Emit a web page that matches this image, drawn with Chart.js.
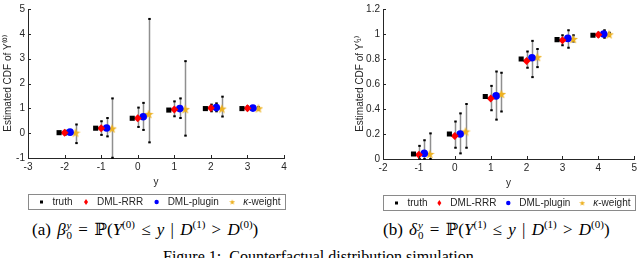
<!DOCTYPE html>
<html><head><meta charset="utf-8">
<script src="https://cdn.jsdelivr.net/npm/chart.js@4/dist/chart.umd.min.js"></script>
<style>
html,body{margin:0;padding:0;background:#fff;}
#wrap{position:relative;width:640px;height:258px;overflow:hidden;background:#fff;}
canvas{position:absolute;top:0;}
.cap{position:absolute;font-family:'Liberation Serif','DejaVu Serif',serif;font-size:17px;color:#000;white-space:nowrap;line-height:18px;word-spacing:2px;}
.cap sup{font-size:11px;vertical-align:0;position:relative;top:-7px;line-height:0;word-spacing:0;}
.ss{display:inline-block;vertical-align:-4px;font-size:11px;line-height:10px;text-align:left;margin-left:1px;}
.fig{position:absolute;font-family:'Liberation Serif','DejaVu Serif',serif;font-size:16px;color:#000;white-space:nowrap;line-height:18px;}
</style></head>
<body><div id="wrap">
<canvas id="c1" width="300" height="212" style="left:0px;width:300px;height:212px"></canvas>
<canvas id="c2" width="295" height="212" style="left:345px;width:295px;height:212px"></canvas>
<div class="cap" style="left:32px;top:220px">(a) <i>β</i><span class="ss"><i>y</i><br>0</span> = ℙ(<i>Y</i><sup>(0)</sup> ≤ <i>y</i> | <i>D</i><sup>(1)</sup> &gt; <i>D</i><sup>(0)</sup>)</div>
<div class="cap" style="left:383px;top:220px">(b) <i>δ</i><span class="ss"><i>y</i><br>0</span> = ℙ(<i>Y</i><sup>(1)</sup> ≤ <i>y</i> | <i>D</i><sup>(1)</sup> &gt; <i>D</i><sup>(0)</sup>)</div>
<div class="fig" style="left:163px;top:248px">Figure 1:&nbsp; Counterfactual distribution simulation</div>
</div>
<script>
// ---------------- DATA ----------------
const seriesNames = ['truth', 'DML-RRR', 'DML-plugin', 'κ-weight'];

// Panel (a): Y(0)
const catsA = [-2, -1, 0, 1, 2, 3];
const truthA  = [0.02, 0.20, 0.60, 0.93, 0.99, 0.99];
const rrrA    = [0.02, 0.20, 0.60, 0.95, 1.01, 1.00];
const plugA   = [0.04, 0.21, 0.66, 0.99, 1.03, 1.01];
const kapA    = [0.02, 0.19, 0.77, 0.97, 0.99, 1.00];
const rrrLoA  = [-0.06, -0.07, 0.25, 0.68, 0.88, 0.93];
const rrrHiA  = [0.10, 0.48, 1.03, 1.28, 1.15, 1.08];
const plugLoA = [-0.04, -0.13, 0.13, 0.61, 0.88, 0.95];
const plugHiA = [0.12, 0.61, 1.22, 1.40, 1.20, 1.06];
const kapLoA  = [-0.40, -0.99, -0.37, -0.10, 0.67, 0.95];
const kapHiA  = [0.35, 1.40, 4.60, 2.90, 1.47, 1.05];
const xTicksA = [-3, -2, -1, 0, 1, 2, 3, 4];
const xTickLabelsA = ['-3', '-2', '-1', '0', '1', '2', '3', '4'];
const yTicksA = [-1, 0, 1, 2, 3, 4, 5];
const yTickLabelsA = ['-1', '0', '1', '2', '3', '4', '5'];

// Panel (b): Y(1)
const catsB = [-1, 0, 1, 2, 3, 4];
const truthB  = [0.04, 0.20, 0.50, 0.80, 0.955, 0.99];
const rrrB    = [0.035, 0.185, 0.485, 0.785, 0.95, 0.995];
const plugB   = [0.045, 0.20, 0.505, 0.81, 0.965, 1.0];
const kapB    = [0.04, 0.22, 0.52, 0.815, 0.96, 0.997];
const rrrLoB  = [0.0, 0.09, 0.39, 0.73, 0.91, 0.98];
const rrrHiB  = [0.105, 0.30, 0.585, 0.86, 0.99, 1.01];
const plugLoB = [0.0, 0.045, 0.315, 0.655, 0.89, 0.97];
const plugHiB = [0.15, 0.365, 0.70, 0.945, 1.03, 1.03];
const kapLoB  = [0.0, 0.09, 0.38, 0.735, 0.94, 0.985];
const kapHiB  = [0.205, 0.44, 0.69, 0.88, 0.99, 1.01];
const xTicksB = [-2, -1, 0, 1, 2, 3, 4, 5];
const xTickLabelsB = ['-2', '-1', '0', '1', '2', '3', '4', '5'];
const yTicksB = [0, 0.2, 0.4, 0.6, 0.8, 1, 1.2];
const yTickLabelsB = ['0', '0.2', '0.4', '0.6', '0.8', '1', '1.2'];

// ---------------- STYLE ----------------
const FONT = "'Liberation Sans', Arial, Helvetica, sans-serif";
const AXC = '#262626';
const colors = ['#000000', '#ff0000', '#0000ff', '#EDB120'];
const dodge = [-0.15, 0, 0.15, 0.3];

Chart.defaults.font.family = FONT;
Chart.defaults.font.size = 10;
Chart.defaults.color = AXC;

function starCanvas(size, color) {
  const c = document.createElement('canvas');
  c.width = size; c.height = size;
  const g = c.getContext('2d');
  const R = size / 2, r = R * 0.42, cx = size / 2, cy = size / 2 + size * 0.05;
  g.beginPath();
  for (let k = 0; k < 10; k++) {
    const a = -Math.PI / 2 + k * Math.PI / 5;
    const rr = (k % 2) ? r : R;
    g.lineTo(cx + rr * Math.cos(a), cy + rr * Math.sin(a));
  }
  g.closePath();
  g.fillStyle = color; g.fill();
  return c;
}
const starBig = starCanvas(10, colors[3]);
const starSmall = starCanvas(6, colors[3]);

const errorBarPlugin = {
  id: 'errbars',
  beforeDatasetsDraw(chart) {
    const ctx = chart.ctx, xs = chart.scales.x, ys = chart.scales.y;
    ctx.save();
    chart.data.datasets.forEach(ds => {
      if (!ds.errLo) return;
      ds.data.forEach((p, i) => {
        const x = Math.round(xs.getPixelForValue(p.x)) + 0.5;
        const y1 = ys.getPixelForValue(ds.errLo[i]);
        const y2 = ys.getPixelForValue(ds.errHi[i]);
        ctx.strokeStyle = '#8f8f8f';
        ctx.lineWidth = 1.5;
        ctx.beginPath(); ctx.moveTo(x, y1); ctx.lineTo(x, y2); ctx.stroke();
        ctx.fillStyle = '#000';
        ctx.fillRect(x - 1.25, y1 - 1, 2.5, 2);
        ctx.fillRect(x - 1.25, y2 - 1, 2.5, 2);
      });
    });
    ctx.restore();
  }
};

const inwardTicksPlugin = {
  id: 'inticks',
  afterDraw(chart) {
    const ctx = chart.ctx, xs = chart.scales.x, ys = chart.scales.y, a = chart.chartArea;
    ctx.save();
    ctx.strokeStyle = AXC; ctx.lineWidth = 1;
    ctx.beginPath();
    xs.ticks.forEach(t => {
      const x = Math.round(xs.getPixelForValue(t.value)) + 0.5;
      ctx.moveTo(x, a.bottom); ctx.lineTo(x, a.bottom - 3);
    });
    ys.ticks.forEach(t => {
      const y = Math.round(ys.getPixelForValue(t.value)) + 0.5;
      ctx.moveTo(a.left, y); ctx.lineTo(a.left + 3, y);
    });
    ctx.stroke();
    ctx.restore();
  }
};

function drawMarker(ctx, k, x, y) {
  ctx.fillStyle = colors[k];
  if (k === 0) { ctx.fillRect(x - 1.5, y - 1.5, 3, 3); }
  else if (k === 1) {
    ctx.beginPath(); ctx.moveTo(x, y - 3); ctx.lineTo(x + 2, y); ctx.lineTo(x, y + 3); ctx.lineTo(x - 2, y); ctx.closePath(); ctx.fill();
  } else if (k === 2) {
    ctx.beginPath(); ctx.arc(x, y, 2.2, 0, Math.PI * 2); ctx.fill();
  } else {
    ctx.drawImage(starSmall, x - 3, y - 3);
  }
}

const boxLegendPlugin = {
  id: 'boxlegend',
  afterDraw(chart) {
    const ctx = chart.ctx, a = chart.chartArea;
    const top = Math.round(a.bottom) + 36.5, h = 15;
    const left = Math.round(a.left) + 0.5, right = Math.round(a.right) + 1.5;
    ctx.save();
    ctx.fillStyle = '#fff';
    ctx.fillRect(left, top, right - left, h);
    ctx.strokeStyle = '#8a8a8a'; ctx.lineWidth = 1;
    ctx.strokeRect(left, top, right - left, h);
    ctx.font = '10px ' + FONT;
    ctx.textBaseline = 'middle';
    const widths = seriesNames.map(n => ctx.measureText(n).width);
    const markGap = 11, lead = 13, tail = 5;
    const total = widths.reduce((s, w) => s + w + markGap, 0);
    const gap = ((right - left) - lead - tail - total) / 3;
    let x = left + lead;
    const cy = top + h / 2;
    seriesNames.forEach((n, k) => {
      drawMarker(ctx, k, x, cy);
      ctx.fillStyle = AXC;
      let tx = x + markGap;
      if (n.startsWith('κ')) {
        ctx.font = 'italic 10px ' + FONT;
        ctx.fillText('κ', tx, cy + 0.5);
        const kw = ctx.measureText('κ').width;
        ctx.font = '10px ' + FONT;
        ctx.fillText(n.slice(1), tx + kw, cy + 0.5);
      } else {
        ctx.fillText(n, tx, cy + 0.5);
      }
      x = tx + widths[k] + gap;
    });
    ctx.restore();
  }
};

function makeDatasets(cats, vals, los, his) {
  const styles = [
    { pointStyle: 'rect', pointRadius: 3.6 },
    { pointStyle: 'rectRot', pointRadius: 4 },
    { pointStyle: 'circle', pointRadius: 3.8 },
    { pointStyle: starBig, pointRadius: 5 }
  ];
  return vals.map((v, k) => ({
    label: seriesNames[k],
    data: cats.map((c, i) => ({ x: c + dodge[k], y: v[i] })),
    errLo: los[k], errHi: his[k],
    backgroundColor: colors[k], borderColor: colors[k], borderWidth: 0,
    pointStyle: styles[k].pointStyle, pointRadius: styles[k].pointRadius,
    showLine: false
  }));
}

function makeChart(id, cfg) {
  return new Chart(document.getElementById(id), {
    type: 'scatter',
    data: { datasets: makeDatasets(cfg.cats, cfg.vals, cfg.los, cfg.his) },
    plugins: [errorBarPlugin, inwardTicksPlugin, boxLegendPlugin],
    options: {
      responsive: false, animation: false, events: [],
      devicePixelRatio: 1,
      layout: { padding: cfg.pad },
      plugins: { legend: { display: false }, tooltip: { enabled: false } },
      scales: {
        x: {
          type: 'linear', min: cfg.xTicks[0], max: cfg.xTicks[cfg.xTicks.length - 1],
          afterBuildTicks: s => { s.ticks = cfg.xTicks.map(v => ({ value: v })); },
          afterFit: s => { s.height = 32; },
          ticks: { callback: (v, i) => cfg.xLabels[i], padding: 3, color: AXC, maxRotation: 0, autoSkip: false },
          grid: { drawOnChartArea: false, drawTicks: false },
          border: { display: true, color: AXC, width: 1 },
          title: { display: true, text: 'y', color: AXC, font: { size: 10 }, padding: { top: 0, bottom: 2 } }
        },
        y: {
          type: 'linear', min: cfg.yTicks[0], max: cfg.yTicks[cfg.yTicks.length - 1],
          afterBuildTicks: s => { s.ticks = cfg.yTicks.map(v => ({ value: v })); },
          afterFit: s => { s.width = cfg.yw; },
          ticks: { callback: (v, i) => cfg.yLabels[i], padding: 3, color: AXC, autoSkip: false },
          grid: { drawOnChartArea: false, drawTicks: false },
          border: { display: true, color: AXC, width: 1 },
          title: { display: true, text: cfg.ytitle, color: AXC, font: { size: 10 }, padding: { top: cfg.ytp, bottom: 0 } }
        }
      }
    }
  });
}

makeChart('c1', {
  cats: catsA, vals: [truthA, rrrA, plugA, kapA],
  los: [null, rrrLoA, plugLoA, kapLoA], his: [null, rrrHiA, plugHiA, kapHiA],
  xTicks: xTicksA, xLabels: xTickLabelsA, yTicks: yTicksA, yLabels: yTickLabelsA,
  ytitle: 'Estimated CDF of Y⁽⁰⁾', yw: 28, ytp: 2,
  pad: { left: 0, right: 16, top: 3, bottom: 22 }
});
makeChart('c2', {
  cats: catsB, vals: [truthB, rrrB, plugB, kapB],
  los: [null, rrrLoB, plugLoB, kapLoB], his: [null, rrrHiB, plugHiB, kapHiB],
  xTicks: xTicksB, xLabels: xTickLabelsB, yTicks: yTicksB, yLabels: yTickLabelsB,
  ytitle: 'Estimated CDF of Y⁽¹⁾', yw: 38, ytp: 9,
  pad: { left: 0, right: 3, top: 6, bottom: 21 }
});
</script>
</body></html>
